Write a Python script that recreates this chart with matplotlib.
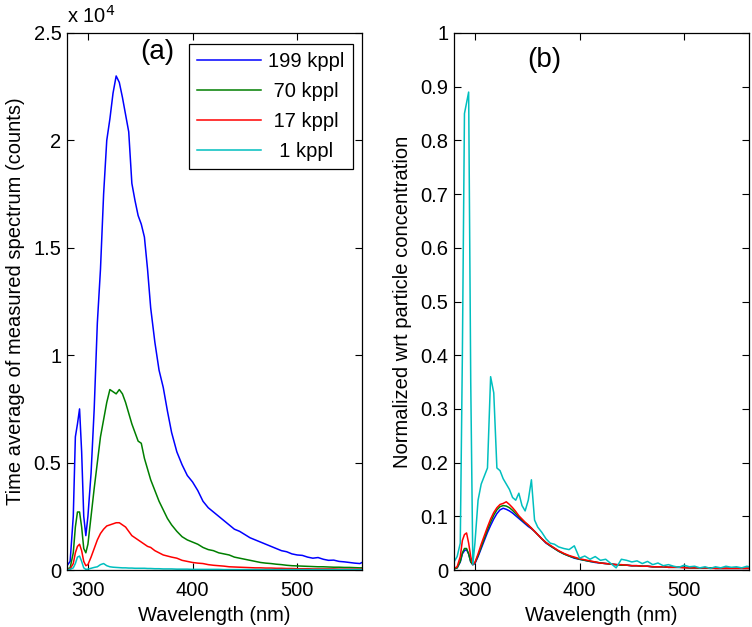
import matplotlib
matplotlib.use("Agg")
import matplotlib.pyplot as plt

plt.rcParams['font.family'] = ['Liberation Sans', 'DejaVu Sans']

wl = [280, 283, 286, 288, 290, 292, 294, 296, 298, 300, 303, 306, 309, 312, 315, 318,
      321, 324, 327, 330, 333, 336, 339, 342, 345, 348, 351, 354, 357, 360, 364, 368,
      372, 376, 380, 385, 390, 395, 400, 405, 410, 415, 420, 425, 430, 435, 440, 445,
      450, 455, 460, 465, 470, 475, 480, 485, 490, 495, 500, 505, 510, 515, 520, 525,
      530, 535, 540, 545, 550, 555, 560, 562]

labels = ['199 kppl', ' 70 kppl', ' 17 kppl', '  1 kppl']
colors = ['#0000ff', '#007f00', '#ff0000', '#00bfbf']

# Panel (a): time-averaged spectrum, units of 1e4 counts
a_199 = [0.02, 0.04, 0.25, 0.62, 0.68, 0.75, 0.55, 0.25, 0.16, 0.25, 0.45, 0.75, 1.15, 1.40, 1.75, 2.00,
         2.10, 2.22, 2.30, 2.27, 2.20, 2.12, 2.04, 1.80, 1.72, 1.65, 1.61, 1.55, 1.40, 1.22, 1.06, 0.93,
         0.85, 0.74, 0.64, 0.55, 0.49, 0.44, 0.41, 0.37, 0.32, 0.29, 0.27, 0.25, 0.23, 0.21, 0.19, 0.18,
         0.165, 0.15, 0.14, 0.13, 0.12, 0.11, 0.10, 0.09, 0.085, 0.075, 0.07, 0.068, 0.06, 0.055, 0.058, 0.05,
         0.045, 0.046, 0.04, 0.038, 0.035, 0.032, 0.03, 0.035]
a_70 = [0.005, 0.01, 0.08, 0.20, 0.27, 0.27, 0.20, 0.10, 0.08, 0.12, 0.25, 0.38, 0.50, 0.62, 0.70, 0.78,
        0.84, 0.83, 0.82, 0.84, 0.82, 0.78, 0.73, 0.68, 0.64, 0.60, 0.59, 0.52, 0.47, 0.42, 0.37, 0.32,
        0.28, 0.24, 0.21, 0.18, 0.155, 0.14, 0.13, 0.12, 0.105, 0.095, 0.09, 0.08, 0.075, 0.07, 0.06, 0.055,
        0.05, 0.045, 0.04, 0.035, 0.032, 0.03, 0.027, 0.025, 0.022, 0.02, 0.019, 0.018, 0.017, 0.016, 0.015, 0.015,
        0.014, 0.013, 0.013, 0.012, 0.012, 0.011, 0.01, 0.01]
a_17 = [0.003, 0.005, 0.03, 0.08, 0.11, 0.12, 0.09, 0.04, 0.02, 0.025, 0.06, 0.10, 0.14, 0.17, 0.19, 0.205,
        0.21, 0.215, 0.22, 0.22, 0.21, 0.20, 0.18, 0.16, 0.15, 0.14, 0.13, 0.12, 0.11, 0.105, 0.09, 0.08,
        0.07, 0.065, 0.06, 0.055, 0.045, 0.04, 0.035, 0.032, 0.03, 0.025, 0.022, 0.02, 0.018, 0.015, 0.014, 0.013,
        0.012, 0.011, 0.01, 0.01, 0.009, 0.009, 0.008, 0.008, 0.007, 0.007, 0.006, 0.006, 0.006, 0.005, 0.005, 0.005,
        0.005, 0.005, 0.004, 0.004, 0.004, 0.004, 0.004, 0.004]
a_1 = [0.002, 0.003, 0.01, 0.03, 0.06, 0.065, 0.04, 0.01, 0.003, 0.004, 0.008, 0.012, 0.015, 0.025, 0.03, 0.02,
       0.015, 0.013, 0.012, 0.011, 0.01, 0.01, 0.009, 0.009, 0.008, 0.008, 0.008, 0.008, 0.007, 0.007, 0.006, 0.006,
       0.005, 0.005, 0.005, 0.004, 0.004, 0.004, 0.003, 0.003, 0.003, 0.003, 0.003, 0.003, 0.002, 0.002, 0.002, 0.002,
       0.002, 0.002, 0.002, 0.002, 0.002, 0.002, 0.002, 0.002, 0.002, 0.002, 0.002, 0.002, 0.002, 0.002, 0.002, 0.002,
       0.002, 0.002, 0.002, 0.002, 0.002, 0.002, 0.002, 0.002]

# Panel (b): normalized wrt particle concentration
b_199 = [0.002, 0.004, 0.015, 0.03, 0.036, 0.038, 0.03, 0.015, 0.01, 0.012, 0.025, 0.04, 0.055, 0.07, 0.083, 0.095,
         0.105, 0.112, 0.115, 0.113, 0.11, 0.106, 0.101, 0.096, 0.091, 0.086, 0.081, 0.077, 0.072, 0.066, 0.058, 0.05,
         0.045, 0.04, 0.035, 0.03, 0.026, 0.022, 0.02, 0.018, 0.016, 0.014, 0.013, 0.012, 0.011, 0.01, 0.009, 0.009,
         0.008, 0.008, 0.007, 0.007, 0.006, 0.006, 0.006, 0.005, 0.005, 0.005, 0.005, 0.004, 0.004, 0.004, 0.004, 0.004,
         0.003, 0.003, 0.003, 0.003, 0.003, 0.003, 0.003, 0.003]
b_70 = [0.002, 0.004, 0.016, 0.032, 0.04, 0.04, 0.03, 0.015, 0.01, 0.013, 0.027, 0.043, 0.059, 0.075, 0.089, 0.102,
        0.112, 0.118, 0.12, 0.119, 0.116, 0.111, 0.105, 0.099, 0.093, 0.088, 0.083, 0.078, 0.072, 0.066, 0.058, 0.051,
        0.045, 0.04, 0.035, 0.03, 0.026, 0.023, 0.02, 0.018, 0.016, 0.015, 0.013, 0.012, 0.011, 0.01, 0.009, 0.009,
        0.008, 0.008, 0.007, 0.007, 0.006, 0.006, 0.006, 0.005, 0.005, 0.005, 0.005, 0.004, 0.004, 0.004, 0.004, 0.004,
        0.003, 0.003, 0.003, 0.003, 0.003, 0.003, 0.003, 0.003]
b_17 = [0.003, 0.006, 0.025, 0.055, 0.066, 0.069, 0.05, 0.025, 0.01, 0.014, 0.03, 0.048, 0.064, 0.08, 0.095, 0.107,
        0.116, 0.122, 0.124, 0.127, 0.122, 0.116, 0.109, 0.101, 0.095, 0.089, 0.084, 0.078, 0.072, 0.066, 0.058, 0.051,
        0.046, 0.041, 0.036, 0.031, 0.027, 0.024, 0.021, 0.019, 0.017, 0.015, 0.013, 0.012, 0.011, 0.01, 0.01, 0.009,
        0.008, 0.008, 0.007, 0.007, 0.006, 0.006, 0.006, 0.005, 0.005, 0.005, 0.004, 0.004, 0.004, 0.004, 0.004, 0.003,
        0.003, 0.003, 0.003, 0.003, 0.003, 0.003, 0.003, 0.003]
b_1 = [0.015, 0.025, 0.05, 0.4, 0.85, 0.87, 0.89, 0.35, 0.01, 0.05, 0.13, 0.16, 0.175, 0.19, 0.36, 0.33,
       0.19, 0.185, 0.17, 0.16, 0.15, 0.135, 0.13, 0.143, 0.12, 0.11, 0.13, 0.168, 0.093, 0.08, 0.07, 0.058,
       0.05, 0.048, 0.043, 0.04, 0.038, 0.045, 0.022, 0.026, 0.02, 0.025, 0.018, 0.02, 0.012, 0.004, 0.02, 0.018,
       0.015, 0.017, 0.012, 0.016, 0.01, 0.013, 0.008, 0.01, 0.007, 0.005, 0.009, 0.006, 0.007, 0.004, 0.006, 0.003,
       0.006, 0.004, 0.007, 0.005, 0.006, 0.004, 0.007, 0.006]

xticks = [300, 400, 500]
a_yticks = [0, 0.5, 1, 1.5, 2, 2.5]
a_yticklabels = ['0', '0.5', '1', '1.5', '2', '2.5']
b_yticks = [0, 0.1, 0.2, 0.3, 0.4, 0.5, 0.6, 0.7, 0.8, 0.9, 1]
b_yticklabels = ['0', '0.1', '0.2', '0.3', '0.4', '0.5', '0.6', '0.7', '0.8', '0.9', '1']

fig = plt.figure(figsize=(7.52, 6.27), dpi=100)
axa = fig.add_axes([67/752, 1-570/627, 295/752, 537/627])
axb = fig.add_axes([454/752, 1-570/627, 295/752, 537/627])

FS = 14.5
for ax in (axa, axb):
    ax.tick_params(direction='in', top=True, right=True, length=5, width=0.8, labelsize=FS)
    ax.tick_params(axis='x', pad=8)
    ax.tick_params(axis='y', pad=4)
    for s in ax.spines.values():
        s.set_linewidth(0.9)
    ax.set_xlim(280, 562)
    ax.set_xticks(xticks)
    ax.set_xticklabels([str(t) for t in xticks])
    ax.set_xlabel('Wavelength (nm)', fontsize=FS, labelpad=4)

series_a = [a_199, a_70, a_17, a_1]
series_b = [b_199, b_70, b_17, b_1]
for ys, c, lab in zip(series_a, colors, labels):
    axa.plot(wl, ys, color=c, lw=1.1, label=lab)
for ys, c in zip(series_b, colors):
    axb.plot(wl, ys, color=c, lw=1.1)

axa.set_ylim(0, 2.5)
axa.set_yticks(a_yticks)
axa.set_yticklabels(a_yticklabels)
axa.set_ylabel('Time average of measured spectrum (counts)', fontsize=FS, labelpad=6)
axa.text(0.0, 1.012, r'x 10$^{4}$', transform=axa.transAxes, fontsize=FS, ha='left', va='bottom')
axa.text(350, 2.41, '(a)', fontsize=20, ha='left', va='center')
leg = axa.legend(loc='upper right', bbox_to_anchor=(0.969, 0.9795), fontsize=FS,
                 handlelength=3.2, handletextpad=0.35, labelspacing=0.55, borderpad=0.4,
                 borderaxespad=0, fancybox=False, framealpha=1, edgecolor='black')
leg.get_frame().set_linewidth(0.9)

axb.set_ylim(0, 1)
axb.set_yticks(b_yticks)
axb.set_yticklabels(b_yticklabels)
axb.set_ylabel('Normalized wrt particle concentration', fontsize=FS, labelpad=6)
axb.text(350, 0.95, '(b)', fontsize=20, ha='left', va='center')

fig.savefig('out.png', dpi=100)
